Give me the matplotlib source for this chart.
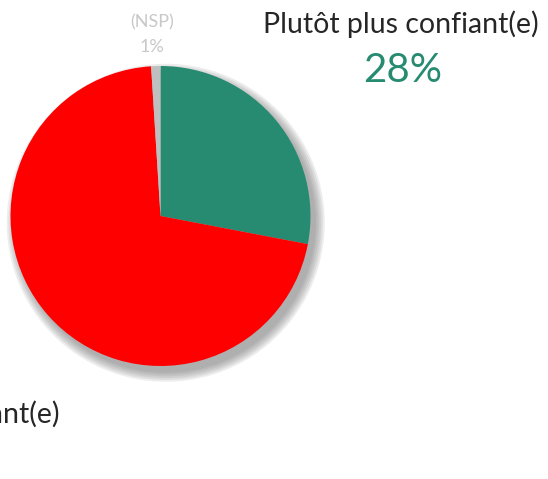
import matplotlib.pyplot as plt
from matplotlib.patches import Circle

# Données
categories = ["Plutôt plus confiant(e)", "Plutôt moins confiant(e)", "(NSP)"]
valeurs = [28, 71, 1]
couleurs = ["#268B70", "#FF0000", "#BFBFBF"]

plt.rcParams['font.family'] = ['Lato', 'DejaVu Sans']

W, H = 548, 479
fig = plt.figure(figsize=(W / 100, H / 100), dpi=100)

# position du camembert en pixels (centre, rayon)
cx, cy, r = 160.5, 216, 150
ax = fig.add_axes([(cx - r) / W, (H - cy - r) / H, 2 * r / W, 2 * r / H])
ax.set_xlim(-1, 1)
ax.set_ylim(-1, 1)
ax.set_aspect('equal')
ax.axis('off')

# ombre floue (quelques cercles superposés)
for i in range(6):
    ax.add_patch(Circle((0.035, -0.045), 1.0 + 0.012 * (5 - i), color='#6F6F6F',
                        alpha=0.12, lw=0, zorder=0, clip_on=False))

wedges, _ = ax.pie(valeurs, colors=couleurs, startangle=90, counterclock=False,
                   radius=1, frame=False, wedgeprops=dict(linewidth=0))
for w in wedges:
    w.set_clip_on(False)
ax.set_xlim(-1, 1)
ax.set_ylim(-1, 1)

# étiquettes
fig.text(401 / W, 1 - 33 / H, categories[0], ha='center', va='baseline',
         fontsize=20.5, color='#262626', fontweight='normal')
fig.text(403 / W, 1 - 82 / H, "{}%".format(valeurs[0]), ha='center', va='baseline',
         fontsize=29, color=couleurs[0], fontweight='normal')
fig.text(60 / W, 1 - 423 / H, categories[1], ha='right', va='baseline',
         fontsize=20.5, color='#262626', fontweight='normal')
fig.text(152 / W, 1 - 27 / H, categories[2], ha='center', va='baseline',
         fontsize=13, color='#C8C8C8', fontweight='normal')
fig.text(152 / W, 1 - 52 / H, "{}%".format(valeurs[2]), ha='center', va='baseline',
         fontsize=13, color='#C8C8C8', fontweight='normal')

fig.savefig('out.png', dpi=100)
